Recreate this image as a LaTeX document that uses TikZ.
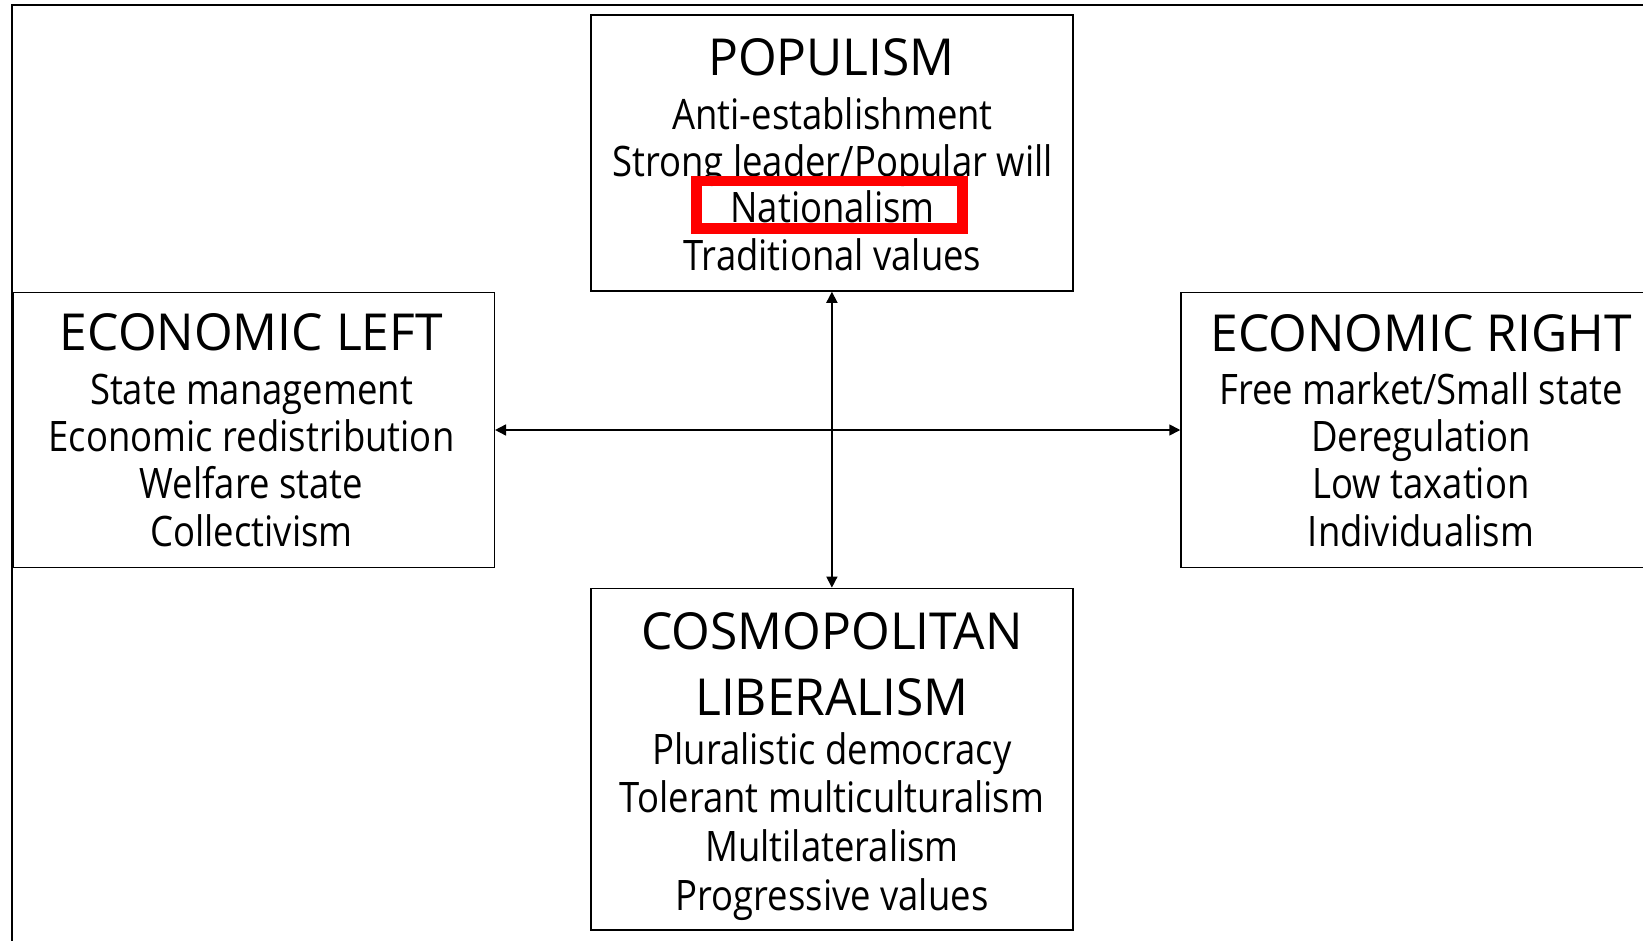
\documentclass[tikz,border=0pt]{standalone}
\usepackage{fontspec}
\setmainfont{Open Sans}
\newfontfamily\bodyfont[FakeStretch=0.868]{Open Sans}
\newfontfamily\titlefont[FakeStretch=0.975]{Open Sans}
\usetikzlibrary{arrows.meta}
\tikzset{
  frameline/.style={line width=2pt, draw=black},
  panel/.style={draw=black, line width=1.5pt, rectangle, inner sep=0pt},
  ttl/.style={anchor=base, inner sep=0pt, font=\titlefont\fontsize{51}{60}\selectfont},
  bod/.style={anchor=base, inner sep=0pt, font=\bodyfont\fontsize{42}{50}\selectfont},
  link/.style={line width=1.6pt, {Triangle[length=11pt,width=11pt]}-{Triangle[length=11pt,width=11pt]}},
  redmark/.style={draw=red, line width=10.5pt, rectangle, inner sep=0pt}
}
\begin{document}
\begin{tikzpicture}[x=1pt,y=-1pt]
\useasboundingbox (0,0) rectangle (1643,941);
\fill[white] (0,0) rectangle (1643,941);
% outer frame (cut off on right and bottom)
\coordinate (fbl) at (12,945);
\coordinate (ftl) at (12,5);
\coordinate (ftr) at (1650,5);
\draw[frameline] (fbl) -- (ftl) -- (ftr);
% boxes
\node[panel, minimum width=482.3pt, minimum height=276pt] (pop) at (831.9,153) {};
\node[panel, minimum width=481pt, minimum height=275.4pt] (left) at (253.8,430) {};
\node[panel, minimum width=485pt, minimum height=275.4pt] (right) at (1423.5,430) {};
\node[panel, minimum width=482.3pt, minimum height=341.7pt] (cos) at (831.9,759.2) {};
% connectors
\draw[link] (pop.south) -- (cos.north);
\draw[link] (left.east) -- (right.west);
% top box text
\node[ttl] (p0) at (831.5,75.7) {POPULISM};
\node[bod] (p1) at (832.5,129.3) {Anti-establishment};
\node[bod] (p2) at (832.5,176.3) {Strong leader/Popular will};
\node[bod] (p3) at (832.5,223) {Nationalism};
\node[bod] (p4) at (832.5,270) {Traditional values};
\node[redmark, minimum width=266pt, minimum height=47.8pt] (red) at (829.3,204.8) {};
% left box text
\node[ttl] (l0) at (251.3,350) {ECONOMIC LEFT};
\node[bod] (l1) at (251.5,404) {State management};
\node[bod] (l2) at (251.5,451) {Economic redistribution};
\node[bod] (l3) at (251.5,498.3) {Welfare state};
\node[bod] (l4) at (251.5,546.5) {Collectivism};
% right box text
\node[ttl] (r0) at (1421,351) {ECONOMIC RIGHT};
\node[bod] (r1) at (1421,404) {Free market/Small state};
\node[bod] (r2) at (1421,451) {Deregulation};
\node[bod] (r3) at (1421,498.3) {Low taxation};
\node[bod] (r4) at (1421,546.5) {Individualism};
% bottom box text
\node[ttl] (c0) at (832,649.3) {COSMOPOLITAN};
\node[ttl] (c1) at (832,715) {LIBERALISM};
\node[bod] (c2) at (832,764) {Pluralistic democracy};
\node[bod] (c3) at (832,812.7) {Tolerant multiculturalism};
\node[bod] (c4) at (832,861.7) {Multilateralism};
\node[bod] (c5) at (832,910.7) {Progressive values};
\end{tikzpicture}
\end{document}
